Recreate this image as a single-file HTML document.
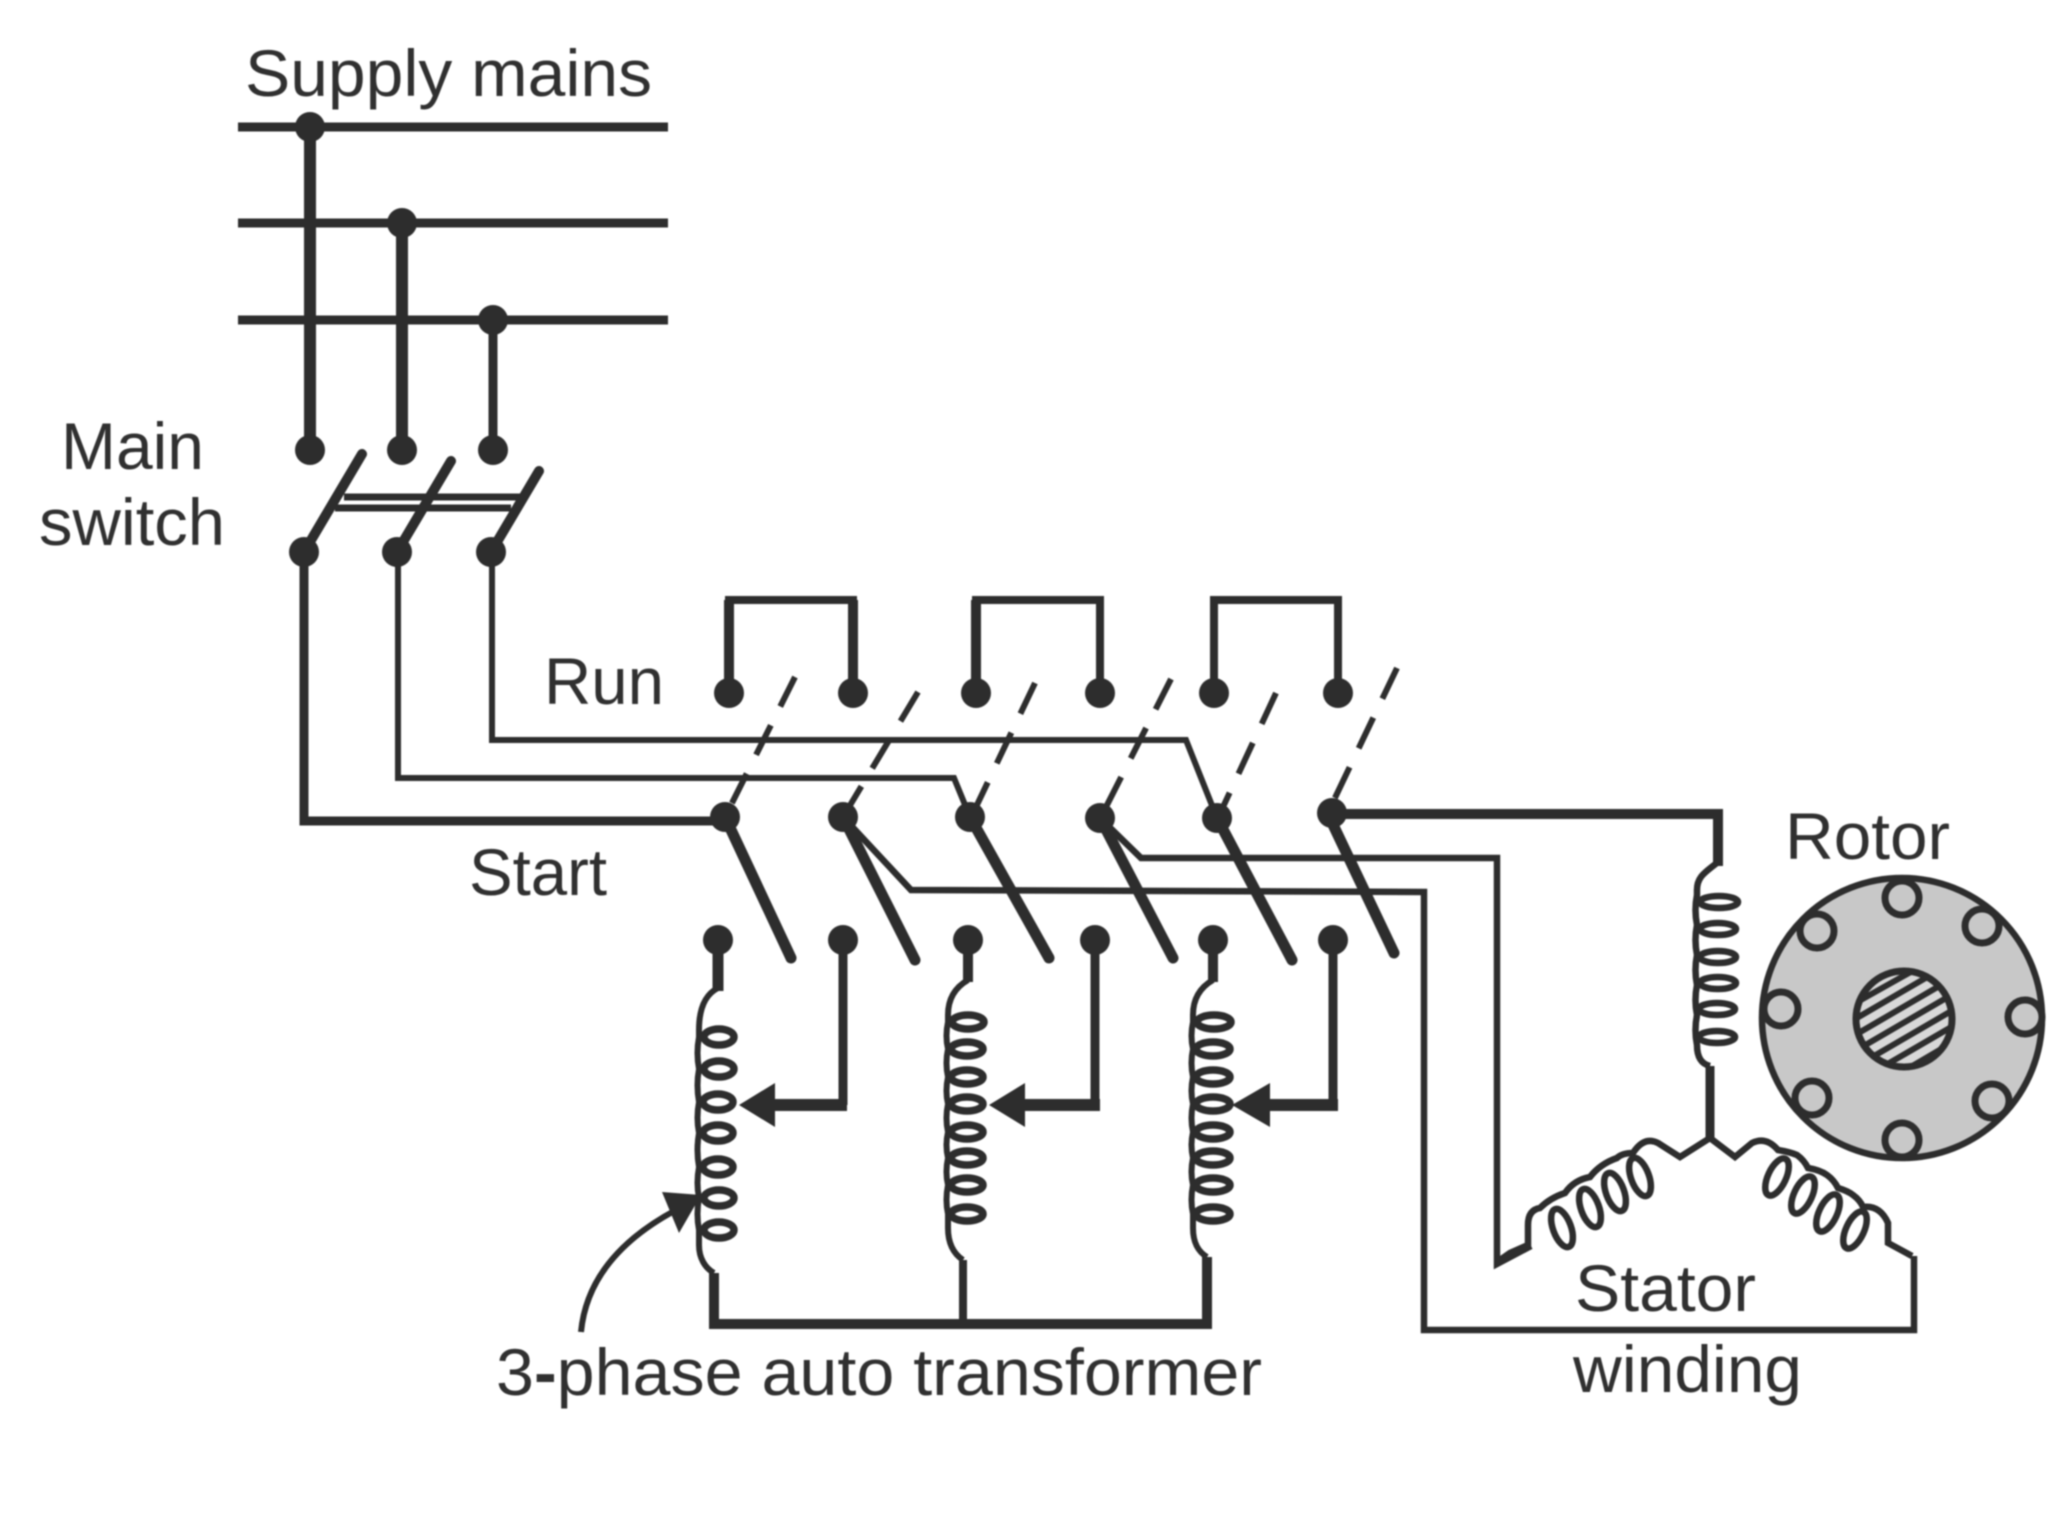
<!DOCTYPE html>
<html><head><meta charset="utf-8"><style>
html,body{margin:0;padding:0;background:#fff;width:2048px;height:1536px;overflow:hidden}
svg{display:block;filter:blur(0.7px)}
text{font-family:"Liberation Sans",sans-serif;font-size:66px;fill:#303030}
</style></head><body>
<svg width="2048" height="1536" viewBox="0 0 2048 1536" xmlns="http://www.w3.org/2000/svg">
<defs><clipPath id="sh"><circle cx="1904" cy="1019" r="48"/></clipPath></defs>
<rect width="2048" height="1536" fill="#fff"/>
<g fill="none" stroke="#2d2d2d" stroke-linejoin="miter">
<!-- supply -->
<path d="M238 127H668M238 223H668M238 320H668" stroke-width="9"/>
<path d="M310 127V450M402 223V450" stroke-width="12"/>
<path d="M493 320V450" stroke-width="9"/>
<!-- main switch -->
<g stroke-width="10" stroke-linecap="round"><path d="M304 552L362 454M397 552L451 461M491 552L539 471"/></g>
<path d="M344 497H520M335 508H511" stroke-width="7"/>
<!-- feed wires -->
<path d="M304 552V821H725" stroke-width="9"/>
<path d="M398 552V778H954L970 817" stroke-width="6"/>
<path d="M492 552V740H1186L1217 818" stroke-width="6"/>
<!-- run loops -->
<path d="M729 693V600H853V693" stroke-width="8"/>
<path d="M976 693V600H1100V693" stroke-width="8"/>
<path d="M1214 693V600H1338V693" stroke-width="8"/>
<path d="M729 693V600M976 693V600M853 693V600" stroke-width="10"/>
<!-- dashed run blades -->
<g stroke-width="6" stroke-dasharray="34 21">
<path d="M795 677L730 807" stroke-dasharray="33 21"/>
<path d="M918 692L849 807"/>
<path d="M1035 683L976 807"/>
<path d="M1171 679L1106 807"/>
<path d="M1276 693L1223 807"/>
<path d="M1397 668L1333 802"/>
</g>
<!-- start blades -->
<g stroke-width="11" stroke-linecap="round">
<path d="M725 817L791 958M843 817L915 960M970 817L1049 958M1100 818L1173 958M1217 818L1292 960M1327 812L1394 953"/>
</g>
<!-- thin branches to motor -->
<path d="M843 817L911 890L1424 892V1330H1914V1256" stroke-width="6.5"/>
<path d="M1100 818L1141 858H1497V1264L1531 1246" stroke-width="6.5"/>
<path d="M1327 814H1718V866" stroke-width="10"/>
<!-- stator top coil -->
<g stroke-width="6.5">
<path d="M1718 862C1706 872 1697 876 1697 890V895Q1694 910 1697 925Q1694 940 1697 955Q1694 970 1697 985Q1694 1000 1697 1015Q1694 1030 1697 1045C1697 1058 1702 1064 1710 1066"/>
<ellipse cx="1719" cy="902" rx="19" ry="6"/><ellipse cx="1718" cy="929" rx="18" ry="6"/><ellipse cx="1718" cy="957" rx="18" ry="6"/><ellipse cx="1718" cy="983" rx="18" ry="6"/><ellipse cx="1717" cy="1009" rx="18" ry="6"/><ellipse cx="1717" cy="1037" rx="18" ry="6"/>
</g>
<path d="M1710 1066V1140" stroke-width="9"/>
<!-- stator left/right coils -->
<g stroke-width="6.5">
<path d="M1710 1138L1680 1157L1658 1143Q1644 1136 1633 1153Q1622 1153 1617 1158Q1600 1164 1590 1177Q1574 1180 1565 1193Q1550 1198 1540 1208Q1528 1210 1528 1225V1245L1510 1253L1497 1262"/>
<ellipse cx="1640" cy="1177" rx="9" ry="20" transform="rotate(-20 1640 1177)"/>
<ellipse cx="1615" cy="1192" rx="9" ry="20" transform="rotate(-20 1615 1192)"/>
<ellipse cx="1590" cy="1208" rx="9" ry="20" transform="rotate(-20 1590 1208)"/>
<ellipse cx="1562" cy="1228" rx="9" ry="20" transform="rotate(-20 1562 1228)"/>
<path d="M1710 1138L1735 1157L1752 1143Q1766 1136 1778 1150Q1790 1152 1797 1155Q1804 1160 1808 1168Q1820 1170 1827 1175Q1834 1180 1838 1188Q1848 1191 1853 1195Q1860 1200 1863 1207Q1880 1205 1888 1223V1243L1912 1256"/>
<ellipse cx="1777" cy="1177" rx="9" ry="20" transform="rotate(25 1777 1177)"/>
<ellipse cx="1803" cy="1195" rx="9" ry="20" transform="rotate(25 1803 1195)"/>
<ellipse cx="1828" cy="1213" rx="9" ry="20" transform="rotate(25 1828 1213)"/>
<ellipse cx="1855" cy="1230" rx="9" ry="20" transform="rotate(25 1855 1230)"/>
</g>
<!-- rotor -->
<circle cx="1902" cy="1018" r="140" fill="#c8c8c8" stroke-width="6.5"/>
<g fill="#c8c8c8" stroke-width="7">
<circle cx="1902" cy="898" r="17"/><circle cx="1982" cy="926" r="17"/><circle cx="1817" cy="931" r="17"/><circle cx="1781" cy="1009" r="17"/><circle cx="2025" cy="1017" r="17"/><circle cx="1812" cy="1098" r="17"/><circle cx="1992" cy="1101" r="17"/><circle cx="1902" cy="1140" r="17"/>
</g>
<circle cx="1904" cy="1019" r="48" fill="#d8d8d8" stroke="none"/>
<g clip-path="url(#sh)" stroke-width="6">
<path d="M1850 990L1920 950M1850 1006L1950 950M1850 1022L1960 958M1850 1038L1960 974M1850 1054L1960 990M1850 1070L1960 1006M1860 1080L1960 1022M1880 1085L1960 1038M1900 1090L1960 1054"/>
</g>
<circle cx="1904" cy="1019" r="48" stroke-width="7"/>
<!-- transformer columns -->
<path d="M718 940V991" stroke-width="11"/>
<path d="M968 940V982" stroke-width="10"/>
<path d="M1213 940V982" stroke-width="10"/>
<g stroke-width="6">
<path d="M718 988C704 995 699 1010 699 1030V1037Q696 1053 699 1069Q696 1085 699 1102Q696 1118 699 1133Q696 1150 699 1167Q696 1183 699 1198Q696 1214 699 1230V1245C699 1258 705 1268 714 1273"/>
<path d="M968 980C954 988 948 1000 948 1015V1022Q945 1036 948 1049Q945 1063 948 1077Q945 1091 948 1104Q945 1118 948 1132Q945 1145 948 1158Q945 1172 948 1185Q945 1200 948 1214V1228C948 1244 954 1254 963 1260"/>
<path d="M1213 980C1199 988 1193 1000 1193 1015V1022Q1190 1036 1193 1049Q1190 1063 1193 1077Q1190 1091 1193 1104Q1190 1118 1193 1132Q1190 1145 1193 1158Q1190 1172 1193 1185Q1190 1200 1193 1214V1228C1193 1244 1199 1252 1207 1257"/>
</g>
<g stroke-width="7.5">
<ellipse cx="719" cy="1037" rx="15" ry="8"/><ellipse cx="719" cy="1069" rx="15" ry="8"/><ellipse cx="718" cy="1102" rx="15" ry="8"/><ellipse cx="718" cy="1133" rx="15" ry="8"/><ellipse cx="718" cy="1167" rx="15" ry="8"/><ellipse cx="719" cy="1198" rx="15" ry="8"/><ellipse cx="719" cy="1230" rx="15" ry="8"/>
<ellipse cx="968" cy="1022" rx="16" ry="7"/><ellipse cx="967" cy="1049" rx="16" ry="7"/><ellipse cx="967" cy="1077" rx="16" ry="7"/><ellipse cx="967" cy="1104" rx="16" ry="7"/><ellipse cx="967" cy="1132" rx="16" ry="7"/><ellipse cx="967" cy="1158" rx="16" ry="7"/><ellipse cx="967" cy="1185" rx="16" ry="7"/><ellipse cx="967" cy="1214" rx="16" ry="7"/>
<ellipse cx="1214" cy="1022" rx="17" ry="7"/><ellipse cx="1213" cy="1049" rx="17" ry="7"/><ellipse cx="1213" cy="1077" rx="17" ry="7"/><ellipse cx="1213" cy="1104" rx="17" ry="7"/><ellipse cx="1213" cy="1132" rx="17" ry="7"/><ellipse cx="1213" cy="1158" rx="17" ry="7"/><ellipse cx="1213" cy="1185" rx="17" ry="7"/><ellipse cx="1213" cy="1214" rx="17" ry="7"/>
</g>
<path d="M714 1273V1324H1207V1257" stroke-width="10"/>
<path d="M963 1260V1324" stroke-width="8"/>
<!-- tap arrows -->
<path d="M843 940V1105M1095 940V1105M1333 940V1105" stroke-width="9"/>
<path d="M847 1105H770M1100 1105H1020M1338 1105H1265" stroke-width="12"/>
<!-- pointer -->
<path d="M581 1332C586 1280 620 1240 676 1210" stroke-width="6"/>
</g>
<g fill="#2d2d2d" stroke="none">
<path d="M739 1105L775 1083V1127Z"/><path d="M989 1105L1025 1083V1127Z"/><path d="M1232 1105L1270 1083V1127Z"/>
<path d="M701 1195L662 1192L679 1233Z"/>
<circle cx="310" cy="127" r="15"/><circle cx="402" cy="223" r="15"/><circle cx="493" cy="320" r="15"/>
<circle cx="310" cy="450" r="15"/><circle cx="402" cy="450" r="15"/><circle cx="493" cy="450" r="15"/>
<circle cx="304" cy="552" r="15"/><circle cx="397" cy="552" r="15"/><circle cx="491" cy="552" r="15"/>
<circle cx="729" cy="693" r="15"/><circle cx="853" cy="693" r="15"/><circle cx="976" cy="693" r="15"/><circle cx="1100" cy="693" r="15"/><circle cx="1214" cy="693" r="15"/><circle cx="1338" cy="693" r="15"/>
<circle cx="725" cy="817" r="15"/><circle cx="843" cy="817" r="15"/><circle cx="970" cy="817" r="15"/><circle cx="1100" cy="818" r="15"/><circle cx="1217" cy="818" r="15"/><circle cx="1332" cy="813" r="15"/>
<circle cx="718" cy="940" r="15"/><circle cx="843" cy="940" r="15"/><circle cx="968" cy="940" r="15"/><circle cx="1095" cy="940" r="15"/><circle cx="1213" cy="940" r="15"/><circle cx="1333" cy="940" r="15"/>
</g>
<text x="245" y="96" textLength="407" lengthAdjust="spacingAndGlyphs">Supply mains</text>
<text x="61" y="469" textLength="143" lengthAdjust="spacingAndGlyphs">Main</text>
<text x="39" y="545" textLength="186" lengthAdjust="spacingAndGlyphs">switch</text>
<text x="544" y="704" textLength="120" lengthAdjust="spacingAndGlyphs">Run</text>
<text x="469" y="895" textLength="138" lengthAdjust="spacingAndGlyphs">Start</text>
<text x="1785" y="859" textLength="165" lengthAdjust="spacingAndGlyphs">Rotor</text>
<text x="1575" y="1311" textLength="181" lengthAdjust="spacingAndGlyphs">Stator</text>
<text x="1573" y="1392" textLength="229" lengthAdjust="spacingAndGlyphs">winding</text>
<text x="496" y="1395" textLength="766" lengthAdjust="spacingAndGlyphs">3<tspan font-weight="bold">-</tspan>phase auto transformer</text>
</svg>
</body></html>
